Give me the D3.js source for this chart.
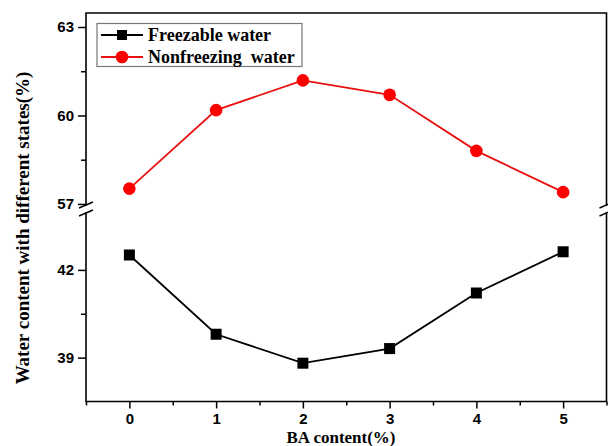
<!DOCTYPE html>
<html>
<head>
<meta charset="utf-8">
<script src="https://cdn.jsdelivr.net/npm/d3@7"></script>
<style>
  body { margin: 0; background: #fff; }
  text { fill: #000; }
</style>
</head>
<body>
<div id="chart"></div>
<script>
// data
var baContent = [0, 1, 2, 3, 4, 5];
var freezable = [42.51, 39.80, 38.81, 39.31, 41.21, 42.62];
var nonfreezing = [57.52, 60.18, 61.19, 60.70, 58.80, 57.40];
var seriesNames = ["Freezable water", "Nonfreezing  water"];
var upperTicks = [57, 60, 63], upperMinor = [58.5, 61.5];
var lowerTicks = [39, 42], lowerMinor = [40.5];
var xMinor = [-0.5, 0.5, 1.5, 2.5, 3.5, 4.5, 5.5];

var width = 608, height = 446;
var plotLeft = 86, plotRight = 606.5, plotTop = 13, plotBottom = 401.5;
var breakTop = 206, breakBot = 212;

var svg = d3.select("#chart").append("svg")
    .attr("width", width)
    .attr("height", height);

var x = d3.scaleLinear().domain([-0.5, 5.5]).range([plotLeft, plotRight]);
var yUp = d3.scaleLinear().domain([56.93, 63.475]).range([breakTop, plotTop]);
var yLow = d3.scaleLinear().domain([37.5, 43.98]).range([plotBottom, breakBot]);

var tickFont = "bold 15px 'Liberation Sans', Arial, sans-serif";
var serifFont = "'Liberation Serif', 'Times New Roman', serif";

function styleAxis(g) {
    g.select(".domain").remove();
    g.selectAll("line").attr("stroke", "#000").attr("stroke-width", 1.5);
    g.selectAll("text").style("font", tickFont).attr("fill", "#000");
}

// y axes (two segments)
svg.append("g").attr("transform", "translate(" + plotLeft + ",0)")
    .call(d3.axisLeft(yUp).tickValues(upperTicks).tickSize(8).tickPadding(4).tickFormat(d3.format("d")))
    .call(styleAxis);
svg.append("g").attr("transform", "translate(" + plotLeft + ",0)")
    .call(d3.axisLeft(yUp).tickValues(upperMinor).tickSize(5).tickFormat(""))
    .call(styleAxis);
svg.append("g").attr("transform", "translate(" + plotLeft + ",0)")
    .call(d3.axisLeft(yLow).tickValues(lowerTicks).tickSize(8).tickPadding(4).tickFormat(d3.format("d")))
    .call(styleAxis);
svg.append("g").attr("transform", "translate(" + plotLeft + ",0)")
    .call(d3.axisLeft(yLow).tickValues(lowerMinor).tickSize(5).tickFormat(""))
    .call(styleAxis);

// x axis
svg.append("g").attr("transform", "translate(0," + plotBottom + ")")
    .call(d3.axisBottom(x).tickValues(baContent).tickSize(7).tickPadding(5).tickFormat(d3.format("d")))
    .call(styleAxis);
svg.append("g").attr("transform", "translate(0," + plotBottom + ")")
    .call(d3.axisBottom(x).tickValues(xMinor).tickSize(4).tickFormat(""))
    .call(styleAxis);

// frame, broken at the gap
var frame = svg.append("g").attr("stroke", "#000").attr("stroke-width", 1.6).attr("fill", "none");
frame.append("path").attr("d", "M" + plotLeft + "," + breakTop + "V" + plotTop + "H" + plotRight + "V" + breakTop);
frame.append("path").attr("d", "M" + plotLeft + "," + breakBot + "V" + plotBottom + "H" + plotRight + "V" + breakBot);

// break marks
[plotLeft, plotRight].forEach(function(bx) {
    [breakTop - 1, breakBot + 1].forEach(function(by) {
        svg.append("line")
            .attr("x1", bx - 7).attr("y1", by + 3)
            .attr("x2", bx + 7).attr("y2", by - 3)
            .attr("stroke", "#000").attr("stroke-width", 1.4);
    });
});

// series
var lineUp = d3.line().x(function(d, i) { return x(baContent[i]); }).y(function(d) { return yUp(d); });
var lineLow = d3.line().x(function(d, i) { return x(baContent[i]); }).y(function(d) { return yLow(d); });

svg.append("path").datum(freezable).attr("d", lineLow)
    .attr("fill", "none").attr("stroke", "#000").attr("stroke-width", 1.8);
svg.selectAll(".sq").data(freezable).join("rect").attr("class", "sq")
    .attr("x", function(d, i) { return x(baContent[i]) - 5.5; })
    .attr("y", function(d) { return yLow(d) - 5.5; })
    .attr("width", 11).attr("height", 11).attr("fill", "#000");

svg.append("path").datum(nonfreezing).attr("d", lineUp)
    .attr("fill", "none").attr("stroke", "#e8100f").attr("stroke-width", 1.8);
svg.selectAll(".dot").data(nonfreezing).join("circle").attr("class", "dot")
    .attr("cx", function(d, i) { return x(baContent[i]); })
    .attr("cy", function(d) { return yUp(d); })
    .attr("r", 6.3).attr("fill", "#ff0000");

// legend
var leg = svg.append("g");
leg.append("rect").attr("x", 97).attr("y", 23.5).attr("width", 205).attr("height", 43)
    .attr("fill", "#fff").attr("stroke", "#777").attr("stroke-width", 1.2);
var legColors = ["#000", "#e8100f"];
seriesNames.forEach(function(name, i) {
    var ly = 35 + i * 22;
    leg.append("line").attr("x1", 101).attr("x2", 143).attr("y1", ly).attr("y2", ly)
        .attr("stroke", legColors[i]).attr("stroke-width", 1.8);
    if (i === 0) {
        leg.append("rect").attr("x", 117).attr("y", ly - 5).attr("width", 10).attr("height", 10).attr("fill", "#000");
    } else {
        leg.append("circle").attr("cx", 122).attr("cy", ly).attr("r", 6.3).attr("fill", "#ff0000");
    }
    leg.append("text").attr("x", 148).attr("y", ly).attr("dy", "0.35em")
        .style("font", "bold 18px " + serifFont).style("white-space", "pre")
        .text(name);
});

// axis titles
svg.append("text").attr("x", 341).attr("y", 438).attr("dy", "0.32em")
    .attr("text-anchor", "middle").style("font", "bold 17px " + serifFont)
    .text("BA content(%)");
svg.append("text").attr("transform", "translate(22,228) rotate(-90)").attr("dy", "0.35em")
    .attr("text-anchor", "middle").style("font", "bold 19px " + serifFont)
    .text("Water content with different states(%)");
</script>
</body>
</html>
